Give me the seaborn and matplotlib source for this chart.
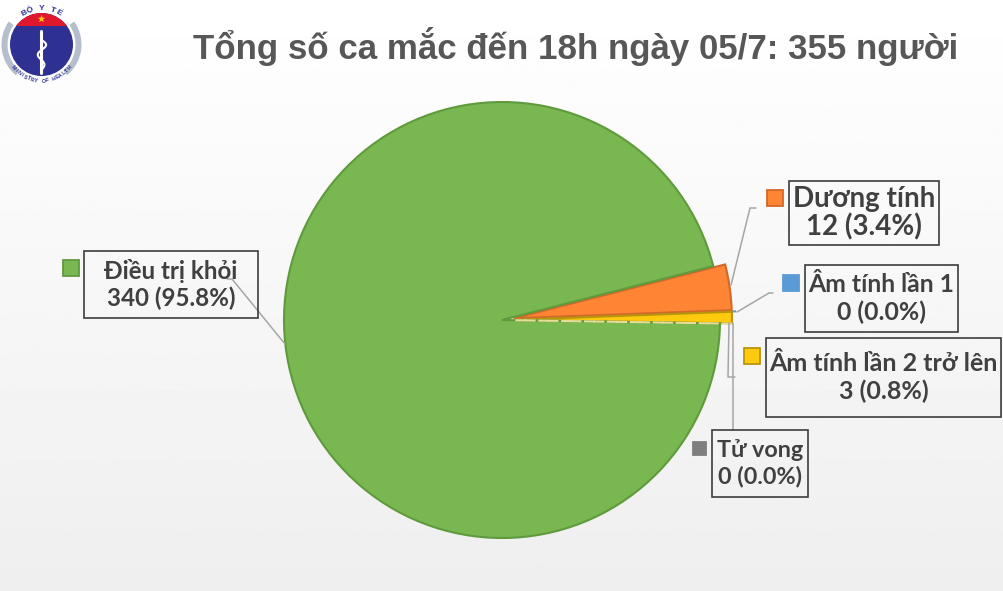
import numpy as np
import matplotlib
matplotlib.use("Agg")
import matplotlib.pyplot as plt
from matplotlib.patches import Circle, Wedge, Polygon, Rectangle
import seaborn as sns

# so lieu
nhan = ["Dương tính", "Âm tính lần 1", "Âm tính lần 2 trở lên", "Tử vong", "Điều trị khỏi"]
so_ca = [12, 0, 3, 0, 340]
tieu_de = "Tổng số ca mắc đến 18h ngày 05/7: 355 người"

sns.set_theme(style="white")
plt.rcParams["font.family"] = ["Lato", "Open Sans", "DejaVu Sans"]

mau = sns.color_palette(["#FF8534", "#5B9BD5", "#FFC90E", "#7F7F7F", "#79B751"])
mau_vien = ["#D2682A", "#5B9BD5", "#B8960C", "#E8DC96", "#5F9A3C"]
mau_chu = "#404040"

W, H = 1004, 591
fig = plt.figure(figsize=(W / 100, H / 100), dpi=100)

# nen: toan figure theo pixel
nen = fig.add_axes([0, 0, 1, 1])
nen.set_xlim(0, W)
nen.set_ylim(H, 0)
nen.axis("off")
gradient = np.linspace(1.0, 0.935, 256).reshape(-1, 1)
nen.imshow(gradient, extent=[0, W, H, 0], cmap="gray", vmin=0, vmax=1, aspect="auto", zorder=0)

# pie
cx, cy, r = 502, 320, 218
pie_ax = fig.add_axes([(cx - r * 1.2) / W, 1 - (cy + r * 1.2) / H, r * 2.4 / W, r * 2.4 / H])
wedges, _ = pie_ax.pie(
    so_ca,
    colors=mau,
    startangle=14.3,
    counterclock=False,
    explode=[0.055, 0.075, 0.055, 0.055, 0],
    frame=False,
)
pie_ax.set_xlim(-1.2, 1.2)
pie_ax.set_ylim(-1.2, 1.2)
pie_ax.axis("off")
for w, c in zip(wedges, mau_vien):
    w.set_edgecolor(c)
    w.set_linewidth(1.5)
wedges[1].set_zorder(0.5)
wedges[3].set_facecolor("none")
wedges[3].set_linestyle((0, (5, 6)))
wedges[3].set_zorder(3)

# lop tren cung cho nhan
top = fig.add_axes([0, 0, 1, 1])
top.set_xlim(0, W)
top.set_ylim(H, 0)
top.axis("off")
top.patch.set_alpha(0)

top.text(576, 47, tieu_de, ha="center", va="center", fontsize=25.15, fontweight="bold",
         family="Liberation Sans", color="#575757")

# hop nhan: x0, x1, y0, y1, co chu
hop = [
    (789, 939, 181, 245, 20, 1.05),
    (805, 958, 265, 332, 17.8, 1.2),
    (766, 1001, 338, 417, 18, 1.2),
    (712, 808, 430, 497, 16.8, 1.25),
    (84, 258, 251, 318, 17.4, 1.2),
]
# o mau chu giai: x, y, canh
o_mau = [(767, 190, 16), (783, 275, 16), (744, 348, 16), (693, 442, 13), (63, 260, 16)]
# duong dan
dan = [
    [(756, 208), (750, 208), (731, 285)],
    [(773, 293), (769, 293), (737, 312)],
    [(729, 323), (728, 377), (735, 377)],
    [(733, 323), (733, 430)],
    [(227, 279), (232, 279), (285, 344)],
]
tong = sum(so_ca)
for i, ten in enumerate(nhan):
    x0, x1, y0, y1, fs, gian = hop[i]
    xs, ys = zip(*dan[i])
    top.plot(xs, ys, color="#A6A6A6", lw=1.1, zorder=2)
    top.add_patch(Rectangle((x0, y0), x1 - x0, y1 - y0, fc="none", ec="#3c3c3c", lw=1.2, zorder=3))
    top.text((x0 + x1) / 2, (y0 + y1) / 2, f"{ten}\n{so_ca[i]} ({so_ca[i] / tong * 100:.1f}%)",
             ha="center", va="center", fontsize=fs, fontweight="bold", color=mau_chu,
             linespacing=gian, zorder=4)
    mx, my, s = o_mau[i]
    top.add_patch(Rectangle((mx, my), s, s, fc=mau[i], ec=mau_vien[i] if i != 3 else mau[i], lw=1.3, zorder=3))

# logo bo y te
lx, ly, lr = 41.5, 44.5, 31.5
top.add_patch(Wedge((lx, ly), 40, -35, 50, width=6, fc="#B4BECD", ec="none", zorder=3))
top.add_patch(Wedge((lx, ly), 40, 130, 215, width=6, fc="#B4BECD", ec="none", zorder=3))
dia = Circle((lx, ly), lr, fc="#2E3192", ec="none", zorder=3)
top.add_patch(dia)
do = Rectangle((lx - lr, ly - lr), 2 * lr, 13, fc="#E0182D", ec="none", zorder=3.1)
top.add_patch(do)
do.set_clip_path(dia)
goc = np.radians(np.arange(5) * 144 - 90)
goc_trong = goc + np.radians(36)
sao = np.empty((10, 2))
sao[0::2] = np.c_[41.5 + 4 * np.cos(goc), 19 + 4 * np.sin(goc)]
sao[1::2] = np.c_[41.5 + 1.6 * np.cos(goc_trong), 19 + 1.6 * np.sin(goc_trong)]
top.add_patch(Polygon(sao, fc="#FFC20E", ec="none", zorder=3.2))
top.plot([41.5, 41.5], [31, 73], color="white", lw=2.2, zorder=3.3, solid_capstyle="round")
ran_y = np.linspace(40, 70, 60)
ran_x = 41.5 + 5 * np.sin((ran_y - 40) / 30 * 3 * np.pi) * (1 - (ran_y - 40) / 60)
top.plot(ran_x, ran_y, color="white", lw=1.5, zorder=3.3)


def chu_cong(chu, ban_kinh, goc_giua, buoc, tren, fs, mau_c):
    for k, c in enumerate(chu):
        a = goc_giua + (k - (len(chu) - 1) / 2) * buoc * (1 if tren else -1)
        ra = np.radians(a)
        top.text(lx + ban_kinh * np.sin(ra), ly - ban_kinh * np.cos(ra), c,
                 ha="center", va="center", fontsize=fs, fontweight="bold", color=mau_c,
                 family="Liberation Sans", rotation=-a if tren else 180 - a,
                 rotation_mode="anchor", zorder=4)


chu_cong("BỘ Y TẾ", 36, 0, 9.5, True, 6, "#2E3192")
chu_cong("MINISTRY OF HEALTH", 36.5, 180, 5.9, False, 3.8, "#2E3192")

fig.savefig("out.png", dpi=100)
